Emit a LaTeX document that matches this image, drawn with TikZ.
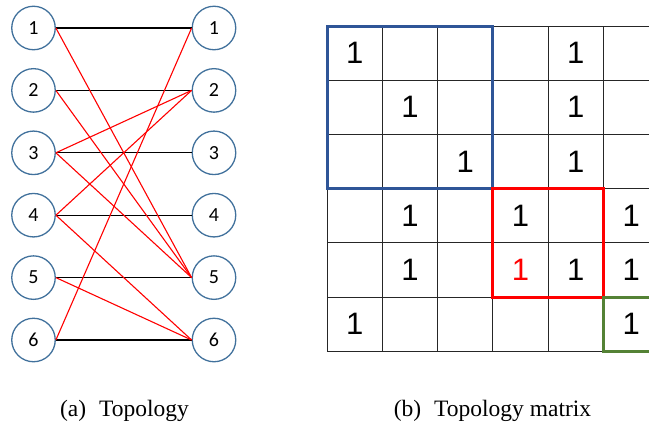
\documentclass[tikz,border=0pt]{standalone}
\usepackage{fontspec}
\newfontfamily\capfont{Liberation Serif}
\newfontfamily\cirfont{Carlito}
\newfontfamily\matfont{Liberation Sans}
\definecolor{cirblue}{RGB}{65,113,156}
\definecolor{boxblue}{RGB}{47,85,151}
\definecolor{boxred}{RGB}{255,0,0}
\definecolor{boxgreen}{RGB}{84,130,53}
\tikzset{
  circ/.style={circle, draw=cirblue, line width=1.3pt, minimum size=43.5pt, inner sep=0pt, font=\cirfont\fontsize{20}{22}\selectfont},
  blk/.style={draw=black, line width=1.2pt},
  redl/.style={draw=red, line width=1.1pt},
  gridl/.style={draw=black!85, line width=0.9pt},
  digit/.style={inner sep=0pt, font=\matfont\fontsize{31}{34}\selectfont},
  hibox/.style={line width=3pt},
  captext/.style={anchor=base, inner sep=0pt, font=\capfont\fontsize{23.5}{26}\selectfont}
}
\begin{document}
\begin{tikzpicture}[x=1pt,y=-1pt]
\useasboundingbox (0,0) rectangle (649,426);
% topology nodes
\foreach \i/\y in {1/28,2/90.4,3/152.8,4/215.2,5/277.6,6/340}{
  \node[circ] (L\i) at (33.5,\y) {\i};
  \node[circ] (R\i) at (214,\y) {\i};
}
\foreach \i in {1,...,6}{\draw[blk] (L\i.east) -- (R\i.west);}
\draw[redl] (L1.east) -- (R5.west);
\draw[redl] (L2.east) -- (R5.west);
\draw[redl] (L3.east) -- (R2.west);
\draw[redl] (L3.east) -- (R5.west);
\draw[redl] (L4.east) -- (R2.west);
\draw[redl] (L4.east) -- (R6.west);
\draw[redl] (L5.east) -- (R6.west);
\draw[redl] (L6.east) -- (R1.west);
% matrix grid
\begin{scope}
\clip (0,0) rectangle (649,426);
\foreach \k in {0,...,6}{\draw[gridl] (327,26+\k*54.2) -- (660,26+\k*54.2);}
\foreach \k in {0,...,5}{\draw[gridl] (327+\k*55.3,26) -- (327+\k*55.3,351.2);}
% digits
\foreach \r/\c in {1/1,1/5,2/2,2/5,3/3,3/5,4/2,4/4,4/6,5/2,5/5,5/6,6/1,6/6}{
  \node[digit] (m\r\c) at (327+\c*55.3-27.65,26+\r*54.2-27.1) {1};
}
\node[digit, text=red] (m54) at (327+4*55.3-27.65,26+5*54.2-27.1) {1};
% highlight boxes
\draw[hibox, draw=boxblue] (327,26) rectangle (327+3*55.3,26+3*54.2);
\draw[hibox, draw=boxred] (327+3*55.3,26+3*54.2) rectangle (327+5*55.3,26+5*54.2);
\draw[hibox, draw=boxgreen] (327+5*55.3,26+5*54.2) rectangle (680,26+6*54.2);
\end{scope}
% captions
\node[captext] (capa) at (124.5,416) {(a)\hspace{0.3em} Topology};
\node[captext] (capb) at (492.5,416) {(b)\hspace{0.3em} Topology matrix};
\end{tikzpicture}
\end{document}
